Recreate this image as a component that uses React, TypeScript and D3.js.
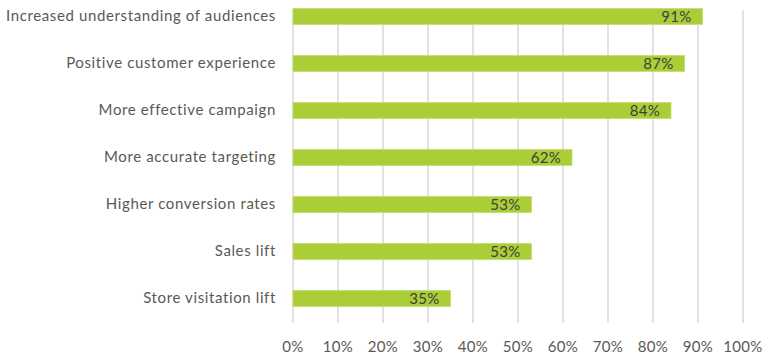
import React from "react";
import * as d3 from "d3";

const categories = [
  "Increased understanding of audiences",
  "Positive customer experience",
  "More effective campaign",
  "More accurate targeting",
  "Higher conversion rates",
  "Sales lift",
  "Store visitation lift",
];
const values = [91, 87, 84, 62, 53, 53, 35];
const ticks = [0, 10, 20, 30, 40, 50, 60, 70, 80, 90, 100];

const W = 778;
const H = 360;

export default function App() {
  const x = d3.scaleLinear().domain([0, 100]).range([293, 743]);
  const y = d3
    .scaleBand<string>()
    .domain(categories)
    .range([-7, 322])
    .paddingInner(0.66)
    .paddingOuter(0.33);
  const bh = y.bandwidth();
  const font = "Lato, 'Open Sans', sans-serif";
  return (
    <svg
      width={W}
      height={H}
      style={{ position: "absolute", left: 0, top: 0, background: "#fff" }}
    >
      <g>
        {ticks.map((t) => (
          <line
            key={t}
            x1={x(t)}
            x2={x(t)}
            y1={10}
            y2={323}
            stroke="#d9d9d9"
            strokeWidth={1.5}
          />
        ))}
      </g>
      <g>
        {categories.map((c, i) => (
          <rect
            key={c}
            x={x(0)}
            y={y(c)!}
            width={x(values[i]) - x(0)}
            height={bh}
            fill="#abcd37"
            stroke="#c4de6e"
            strokeWidth={0.8}
          />
        ))}
      </g>
      <g fontFamily={font} fontSize={15} fill="#404040" letterSpacing={0.3}>
        {categories.map((c, i) => (
          <text
            key={c}
            x={x(values[i]) - 11}
            y={y(c)! + bh / 2 + 2}
            textAnchor="end"
            dominantBaseline="middle"
          >
            {values[i]}%
          </text>
        ))}
      </g>
      <g fontFamily={font} fontSize={15} fill="#595959" letterSpacing={0.62}>
        {categories.map((c) => (
          <text
            key={c}
            x={276}
            y={y(c)! + bh / 2 + 0.5}
            textAnchor="end"
            dominantBaseline="middle"
          >
            {c}
          </text>
        ))}
      </g>
      <g fontFamily={font} fontSize={15} fill="#595959" letterSpacing={0.3}>
        {ticks.map((t) => (
          <text
            key={t}
            x={x(t)}
            y={348}
            textAnchor="middle"
            dominantBaseline="middle"
          >
            {t}%
          </text>
        ))}
      </g>
    </svg>
  );
}
